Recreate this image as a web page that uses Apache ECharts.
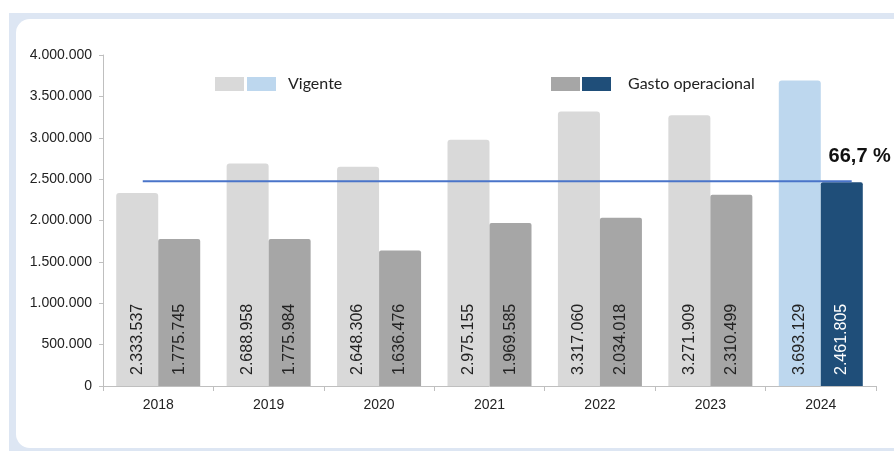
<!DOCTYPE html>
<html><head><meta charset="utf-8">
<script src="https://cdn.jsdelivr.net/npm/echarts@6/dist/echarts.min.js"></script>
<style>html,body{margin:0;padding:0;background:#fff}#c{width:894px;height:451px}</style>
</head><body><div id="c"></div>
<script>
const categories = ['2018','2019','2020','2021','2022','2023','2024'];
const vigente = [2333537, 2688958, 2648306, 2975155, 3317060, 3271909, 3693129];
const gasto = [1775745, 1775984, 1636476, 1969585, 2034018, 2310499, 2461805];
const refLineValue = 2475000;
const refLineSpan = [0.36, 6.78];
const refLabel = '66,7 %';
const yTicks = { min: 0, max: 4000000, interval: 500000 };

const fmt = n => String(n).replace(/\B(?=(\d{3})+(?!\d))/g, '.');
const lastIdx = categories.length - 1;
const F = 'Arial, "Liberation Sans", sans-serif';
const FL = 'Lato, sans-serif';

const chart = echarts.init(document.getElementById('c'), null, {renderer: 'canvas'});
const labelBase = {
  show: true, position: 'insideBottom', rotate: 90, align: 'left', verticalAlign: 'middle',
  distance: 11, fontSize: 16, fontFamily: F, color: '#222', formatter: p => fmt(p.value)
};
chart.setOption({
  animation: false,
  backgroundColor: '#fff',
  graphic: [
    {type: 'rect', z: -10, silent: true, shape: {x: 9, y: 13, width: 900, height: 450}, style: {fill: '#dde6f3'}},
    {type: 'rect', z: -9, silent: true, shape: {x: 16, y: 19, width: 900, height: 429, r: 14}, style: {fill: '#fff'}},
    {type: 'rect', shape: {x: 215, y: 77, width: 29, height: 14}, style: {fill: '#d9d9d9'}},
    {type: 'rect', shape: {x: 247, y: 77, width: 29, height: 14}, style: {fill: '#bdd7ee'}},
    {type: 'text', x: 288, y: 84, style: {text: 'Vigente', fontSize: 16, fontFamily: FL, fill: '#222', verticalAlign: 'middle'}},
    {type: 'rect', shape: {x: 551, y: 77, width: 29, height: 14}, style: {fill: '#a6a6a6'}},
    {type: 'rect', shape: {x: 582, y: 77, width: 29, height: 14}, style: {fill: '#1f4e79'}},
    {type: 'text', x: 628, y: 84, style: {text: 'Gasto operacional', fontSize: 16, fontFamily: FL, fill: '#222', verticalAlign: 'middle'}}
  ],
  grid: {left: 103, right: 18, top: 55, bottom: 65},
  xAxis: [{
    type: 'category', data: categories,
    axisLine: {lineStyle: {color: '#bfbfbf'}},
    axisTick: {show: true, length: 5, lineStyle: {color: '#bfbfbf'}},
    axisLabel: {fontSize: 14, fontFamily: F, color: '#222', margin: 12}
  }, {
    type: 'value', min: 0, max: 7, show: false
  }],
  yAxis: {
    type: 'value', min: yTicks.min, max: yTicks.max, interval: yTicks.interval,
    axisLine: {show: true, lineStyle: {color: '#bfbfbf'}},
    axisTick: {show: true, length: 4, lineStyle: {color: '#bfbfbf'}},
    splitLine: {show: false},
    axisLabel: {fontSize: 14, fontFamily: F, color: '#222', margin: 11, formatter: v => fmt(v)}
  },
  series: [{
    name: 'Vigente', type: 'bar', barWidth: 42, barGap: '0%',
    itemStyle: {color: '#d9d9d9', borderRadius: [3, 3, 0, 0]},
    label: labelBase,
    data: vigente.map((v, i) => i === lastIdx ? {value: v, itemStyle: {color: '#bdd7ee'}} : v)
  }, {
    name: 'Gasto operacional', type: 'bar', barWidth: 42, barGap: '0%',
    itemStyle: {color: '#a6a6a6', borderRadius: [2, 2, 0, 0]},
    label: labelBase,
    data: gasto.map((v, i) => i === lastIdx ? {value: v, itemStyle: {color: '#1f4e79'}, label: {color: '#fff'}} : v)
  }, {
    name: 'ref', type: 'line', xAxisIndex: 1, yAxisIndex: 0, symbol: 'circle', symbolSize: 0, showSymbol: true, z: 5,
    lineStyle: {color: '#4a74c9', width: 2},
    label: {
      show: true, position: 'top', offset: [8, -10],
      formatter: p => p.dataIndex === 1 ? refLabel : '',
      fontSize: 20, fontWeight: 'bold', fontFamily: F, color: '#111'
    },
    data: [[refLineSpan[0], refLineValue], [refLineSpan[1], refLineValue]]
  }]
});
</script></body></html>
